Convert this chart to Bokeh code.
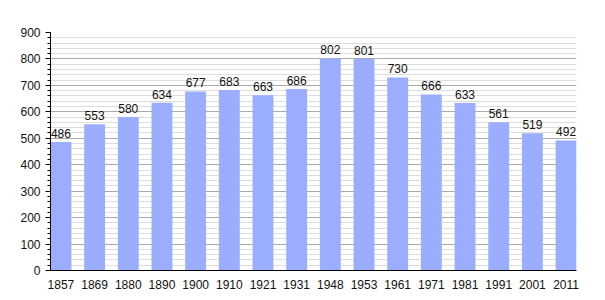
from bokeh.plotting import figure
from bokeh.models import ColumnDataSource, FixedTicker, Range1d, LabelSet
from bokeh.core.properties import value
from bokeh.embed import file_html
from bokeh.resources import INLINE

years = ["1857", "1869", "1880", "1890", "1900", "1910", "1921", "1931",
         "1948", "1953", "1961", "1971", "1981", "1991", "2001", "2011"]
population = [486, 553, 580, 634, 677, 683, 663, 686,
              802, 801, 730, 666, 633, 561, 519, 492]
y_ticks = [0, 100, 200, 300, 400, 500, 600, 700, 800, 900]

xs = list(range(len(years)))
src = ColumnDataSource(dict(x=xs, y=population, lab=[str(v) for v in population]))

FONT = "Liberation Sans"
W = 0.62
p = figure(width=605, height=300, output_backend="svg", toolbar_location=None,
           x_range=Range1d(-W / 2, len(years) - 1 + W / 2), y_range=Range1d(0, 900),
           min_border_left=50, min_border_right=29, min_border_top=32, min_border_bottom=30)
p.outline_line_color = None
p.background_fill_color = "white"

p.vbar(x="x", top="y", width=W, source=src, fill_color="#9aadff", line_color=None)

labels = LabelSet(x="x", y="y", text="lab", source=src, text_align="center",
                  text_baseline="bottom", y_offset=4, text_font_size=value("12px"),
                  text_font=value(FONT), text_color=value("#111111"))
p.add_layout(labels)

p.xaxis.ticker = FixedTicker(ticks=xs)
p.xaxis.major_label_overrides = {i: y for i, y in enumerate(years)}
p.xaxis.major_tick_line_color = None
p.xaxis.minor_tick_line_color = None
p.xaxis.axis_line_color = "black"
p.xaxis.major_label_text_font = FONT
p.xaxis.major_label_text_font_size = "12px"
p.xaxis.major_label_text_color = "#111111"
p.xaxis.major_label_standoff = 3

p.yaxis.ticker = FixedTicker(ticks=y_ticks, minor_ticks=list(range(0, 901, 20)))
p.yaxis.axis_line_color = "black"
p.yaxis.major_tick_out = 5
p.yaxis.major_tick_in = 0
p.yaxis.minor_tick_out = 3
p.yaxis.minor_tick_in = 0
p.yaxis.major_label_text_font = FONT
p.yaxis.major_label_text_font_size = "12px"
p.yaxis.major_label_text_color = "#111111"
p.yaxis.major_label_standoff = 5

p.xgrid.grid_line_color = None
p.ygrid.grid_line_color = "#aaaaaa"
p.ygrid.minor_grid_line_color = "#dddddd"
p.ygrid.level = "underlay"

open("out.html", "w").write(file_html(p, INLINE))
